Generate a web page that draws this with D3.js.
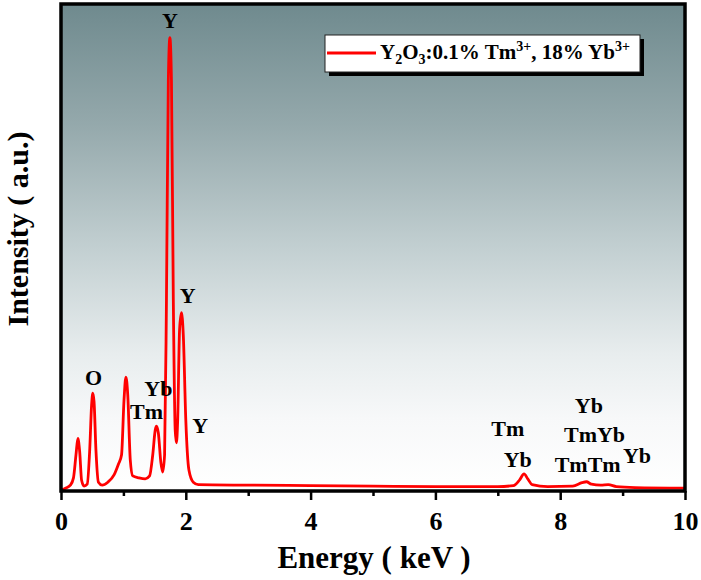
<!DOCTYPE html>
<html><head><meta charset="utf-8">
<script src="https://cdn.jsdelivr.net/npm/d3@7"></script>
<style>body{margin:0;background:#fff}svg{display:block}</style>
</head><body>
<script>
// Spectrum: energy (keV) and intensity (a.u.)
const energy = [0.00,0.08,0.15,0.20,0.24,0.27,0.30,0.33,0.37,0.42,0.46,0.49,0.51,0.53,0.56,0.60,0.66,0.75,0.85,0.92,0.97,1.01,1.04,1.07,1.11,1.15,1.25,1.35,1.42,1.47,1.51,1.53,1.56,1.60,1.63,1.66,1.69,1.72,1.745,1.77,1.80,1.83,1.85,1.87,1.90,1.93,1.96,2.00,2.05,2.12,2.20,3.0,4.0,5.0,6.0,7.0,7.25,7.35,7.42,7.48,7.55,7.8,8.2,8.35,8.42,8.5,8.65,8.77,8.9,9.2,10.0];
const intensity = [2,6,12,27,74,108,80,22,10,14,84,176,201,183,84,18,12,18,33,55,74,187,234,197,64,31,27,25,31,74,125,133,119,59,39,74,392,843,931,843,392,125,99,146,331,366,320,146,43,18,13,12,11,10,9,9,11,23,35,25,13,9,10,17,19,14,12,13,9,7,6];
const xTicks = [0,2,4,6,8,10];
const xMinor = [1,3,5,7,9];
const peakLabels = ["Y","O","Yb","Tm","Y","Y","Tm","Yb","Yb","TmYb","TmTm","Yb"];
const peakLabelE = [1.747,0.52,1.56,1.37,2.23,2.03,7.16,7.32,8.46,8.55,8.44,9.23];
const peakLabelI = [950,218,195,148,119,387,112,50,160,101,40,57];
const legendText = "Y2O3:0.1% Tm3+, 18% Yb3+";

const W = 701, H = 580;
const m = {left:61, top:4, right:685, bottom:491};
const font = "'Liberation Serif','Times New Roman',serif";
const svg = d3.select("body").append("svg").attr("width",W).attr("height",H);

const x = d3.scaleLinear().domain([0,10]).range([m.left,m.right]);
const y = d3.scaleLinear().domain([0,1000]).range([m.bottom,m.top]);

const defs = svg.append("defs");
const g = defs.append("linearGradient").attr("id","bg").attr("x1",0).attr("y1",0).attr("x2",0).attr("y2",1);
[[0,"#6f8a8e"],[0.25,"#95a9ac"],[0.5,"#c2cfd1"],[0.72,"#e8edee"],[0.85,"#f7f8f9"],[1,"#ffffff"]].forEach(s=>g.append("stop").attr("offset",s[0]).attr("stop-color",s[1]));

svg.append("rect").attr("x",m.left).attr("y",m.top).attr("width",m.right-m.left).attr("height",m.bottom-m.top).attr("fill","url(#bg)");

const data = energy.map((e,i)=>[e,intensity[i]]);
svg.append("path").datum(data)
  .attr("d",d3.line().x(d=>x(d[0])).y(d=>y(d[1])).curve(d3.curveMonotoneX))
  .attr("fill","none").attr("stroke","#ff0000").attr("stroke-width",2.8).attr("stroke-linejoin","round");

// frame
svg.append("rect").attr("x",m.left).attr("y",m.top).attr("width",m.right-m.left).attr("height",m.bottom-m.top)
  .attr("fill","none").attr("stroke","#000").attr("stroke-width",3.5);

// bottom axis
const ax = svg.append("g").attr("transform",`translate(0,${m.bottom})`)
  .call(d3.axisBottom(x).tickValues(xTicks).tickSize(9).tickFormat(d3.format("d")));
ax.select(".domain").remove();
ax.selectAll("line").attr("stroke","#000").attr("stroke-width",2.5);
ax.selectAll("text").attr("y",39).attr("dy",0).attr("font-family",font).attr("font-weight","bold").attr("font-size",26).attr("fill","#000");
const axm = svg.append("g").attr("transform",`translate(0,${m.bottom})`)
  .call(d3.axisBottom(x).tickValues(xMinor).tickSize(5).tickFormat(""));
axm.select(".domain").remove();
axm.selectAll("line").attr("stroke","#000").attr("stroke-width",2.5);

// titles
svg.append("text").attr("x",374).attr("y",568).attr("text-anchor","middle")
  .attr("font-family",font).attr("font-weight","bold").attr("font-size",31).text("Energy ( keV )");
svg.append("text").attr("transform","translate(28,229) rotate(-90)").attr("text-anchor","middle")
  .attr("font-family",font).attr("font-weight","bold").attr("font-size",30).text("Intensity ( a.u.)");

// peak labels
svg.append("g").selectAll("text").data(peakLabels).join("text")
  .attr("x",(d,i)=>x(peakLabelE[i])).attr("y",(d,i)=>y(peakLabelI[i]))
  .attr("text-anchor","middle").attr("font-family",font).attr("font-weight","bold").attr("font-size",22)
  .text(d=>d);

// legend
const lg = svg.append("g");
lg.append("rect").attr("x",329).attr("y",39).attr("width",315).attr("height",37).attr("fill","#000");
lg.append("rect").attr("x",325).attr("y",35).attr("width",315).attr("height",37).attr("fill","#fff").attr("stroke","#222").attr("stroke-width",1);
lg.append("line").attr("x1",327).attr("x2",376).attr("y1",53).attr("y2",53).attr("stroke","#ff0000").attr("stroke-width",3);
const lt = lg.append("text").attr("x",380).attr("y",59).attr("font-family",font).attr("font-weight","bold").attr("font-size",21);
const parts = [["Y",0],["2",1],["O",0],["3",1],[":0.1% Tm",0],["3+",2],[", 18% Yb",0],["3+",2]];
parts.forEach((p,i)=>{
  const t = lt.append("tspan").text(p[0]);
  let dy = 0;
  if(p[1]===1) dy = 5; else if(p[1]===2) dy = -8;
  if(i>0 && parts[i-1][1]===1) dy -= 5;
  if(i>0 && parts[i-1][1]===2) dy += 8;
  if(p[1]!==0) t.attr("font-size",14);
  t.attr("dy",dy);
});
lt.attr("data-label",legendText);
</script>
</body></html>
